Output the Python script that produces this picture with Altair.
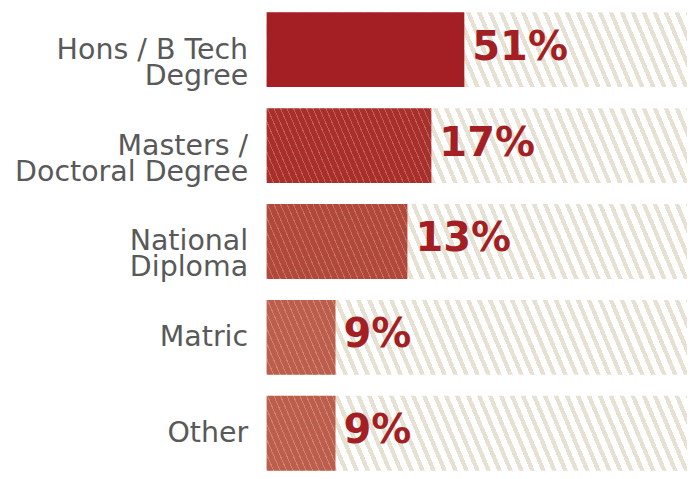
import altair as alt
import pandas as pd

# ---- data ----
categories = ["Hons / B Tech|Degree", "Masters /|Doctoral Degree", "National|Diploma", "Matric", "Other"]
percent = [51, 17, 13, 9, 9]
full_scale = [100, 100, 100, 100, 100]

df = pd.DataFrame({"cat": categories, "pct": percent, "full": full_scale})

# ---- layout / style ----
W, H = 421, 459
PAD_INNER = 0.22
BW = H / (len(categories) - PAD_INNER) * (1 - PAD_INNER)
# non-linear (infographic) bar lengths: piecewise linear scale
X_DOMAIN = [0, 9, 13, 17, 51, 100]
X_RANGE = [0, 69, 141, 165, 198, W]

bar_base = ["#a31f24", "#a8302c", "#b0493b", "#bb5e4c", "#bb5e4c"]
bar_line = ["#a31f24", "#c25e55", "#c6705f", "#cf8372", "#cf8372"]


def stripes(w, h, period, thick, slope, c_bg, c_line, phase=0.0):
    d = -slope * h / w
    n2 = 1 + d * d
    s1, s2 = d / n2, 1 / n2
    dt = (period / w) / (1 - d)
    tt = thick / period * dt
    stops = [{"offset": 0, "color": c_bg}]
    t = phase * dt
    while t < 1:
        a, b = t, min(t + tt, 1)
        stops += [
            {"offset": a, "color": c_bg},
            {"offset": a, "color": c_line},
            {"offset": b, "color": c_line},
            {"offset": b, "color": c_bg},
        ]
        t += dt
    stops.append({"offset": 1, "color": c_bg})
    return {"gradient": "linear", "x1": s1, "y1": s1 * d, "x2": s2, "y2": s2 * d, "stops": stops}


def x_px(v):
    for i in range(len(X_DOMAIN) - 1):
        if X_DOMAIN[i] <= v <= X_DOMAIN[i + 1]:
            f = (v - X_DOMAIN[i]) / (X_DOMAIN[i + 1] - X_DOMAIN[i])
            return X_RANGE[i] + f * (X_RANGE[i + 1] - X_RANGE[i])
    return W


xscale = alt.Scale(domain=X_DOMAIN, range=X_RANGE, clamp=True)
yenc = alt.Y(
    "cat:N",
    sort=None,
    scale=alt.Scale(paddingInner=PAD_INNER, paddingOuter=0),
    axis=alt.Axis(
        title=None,
        domain=False,
        ticks=False,
        grid=False,
        labelExpr="split(datum.label, '|')",
        labelFont="DejaVu Sans",
        labelFontSize=28.5,
        labelColor="#595959",
        labelLineHeight=26,
        labelPadding=19,
        labelLimit=0,
    ),
)

base = alt.Chart(df)

bg = base.mark_bar(
    fill=stripes(W, BW, 11, 4.6, 0.42, "#ffffff", "#e6e1d2"), cornerRadius=0
).encode(x=alt.X("full:Q", scale=xscale, axis=None), y=yenc)

bar_layers = []
for i, c in enumerate(categories):
    w = x_px(percent[i])
    fill = (
        bar_base[i]
        if bar_base[i] == bar_line[i]
        else stripes(w, BW, 6.5, 1.1, 0.43, bar_base[i], bar_line[i])
    )
    bar_layers.append(
        base.transform_filter(alt.datum.cat == c)
        .mark_bar(fill=fill, cornerRadius=0)
        .encode(x=alt.X("pct:Q", scale=xscale, axis=None), y=yenc)
    )

labels = (
    base.transform_calculate(lab="datum.pct + '%'")
    .mark_text(
        align="left",
        baseline="middle",
        dx=8,
        dy=-2,
        font="DejaVu Sans",
        fontWeight="bold",
        fontSize=40,
        color="#a31f24",
    )
    .encode(x=alt.X("pct:Q", scale=xscale, axis=None), y=yenc, text="lab:N")
)

chart = (
    alt.layer(bg, *bar_layers, labels)
    .properties(
        width=W,
        height=H,
        autosize=alt.AutoSizeParams(type="none"),
        padding={"left": 259, "top": 4, "right": 0, "bottom": 0},
    )
    .configure_view(stroke=None)
)

chart.save("out.html", embed_options={"renderer": "svg", "actions": False})
